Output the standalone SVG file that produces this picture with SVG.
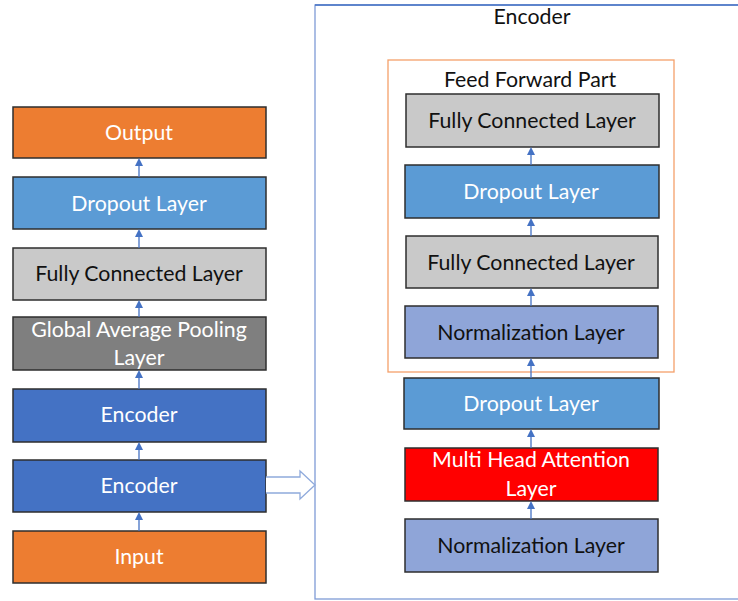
<svg xmlns="http://www.w3.org/2000/svg" width="738" height="601" viewBox="0 0 738 601">
<style>
.box{stroke:#2e2e2e;stroke-width:1.5}
.t{font-family:Lato,"Open Sans","Liberation Sans",sans-serif;font-size:21.3px;text-anchor:middle}
.w{fill:#ffffff}
.k{fill:#111111}
.orange{fill:#ed7d31}
.drop{fill:#5b9bd5}
.fc{fill:#c9c9c9}
.gap{fill:#7f7f7f}
.enc{fill:#4472c4}
.norm{fill:#8fa5d8}
.mha{fill:#ff0000}
.conn line{stroke:#4472c4;stroke-width:1.3}
</style>
<defs>
<marker id="ah" markerWidth="8" markerHeight="8" refX="4" refY="4" orient="auto" markerUnits="userSpaceOnUse">
<path d="M0,0 L8,4 L0,8 z" fill="#4472c4"/>
</marker>
</defs>
<rect width="738" height="601" fill="#ffffff"/>

<g id="encoder-detail">
<rect x="315" y="5" width="440" height="594" fill="none" stroke="#7f9bd6" stroke-width="1.3"/>
<line x1="315" y1="5" x2="738" y2="5" stroke="#4472c4" stroke-width="1.3"/>
<text class="t k" x="532" y="24">Encoder</text>
</g>

<g id="feed-forward-part">
<rect x="388" y="60" width="286" height="312" fill="none" stroke="#f4a06a" stroke-width="1.3"/>
<text class="t k" x="530" y="87">Feed Forward Part</text>
</g>

<g id="output"><rect class="box orange" x="13" y="107" width="253" height="51"/><text class="t w" x="139" y="140">Output</text></g>
<g id="dropout-left"><rect class="box drop" x="13" y="177" width="253" height="52"/><text class="t w" x="139" y="211">Dropout Layer</text></g>
<g id="fc-left"><rect class="box fc" x="13" y="248" width="253" height="52"/><text class="t k" x="139" y="281">Fully Connected Layer</text></g>
<g id="gap"><rect class="box gap" x="13" y="317" width="253" height="53"/><text class="t w" x="139" y="337">Global Average Pooling</text><text class="t w" x="139" y="365">Layer</text></g>
<g id="encoder-1"><rect class="box enc" x="13" y="389" width="253" height="53"/><text class="t w" x="139" y="422">Encoder</text></g>
<g id="encoder-2"><rect class="box enc" x="13" y="460" width="253" height="52"/><text class="t w" x="139" y="493">Encoder</text></g>
<g id="input"><rect class="box orange" x="13" y="531" width="253" height="52"/><text class="t w" x="139" y="564">Input</text></g>

<g id="fc-top"><rect class="box fc" x="406" y="94" width="253" height="53"/><text class="t k" x="532" y="128">Fully Connected Layer</text></g>
<g id="dropout-ff"><rect class="box drop" x="405" y="165" width="254" height="53"/><text class="t w" x="531" y="199">Dropout Layer</text></g>
<g id="fc-ff"><rect class="box fc" x="406" y="236" width="252" height="52"/><text class="t k" x="531" y="270">Fully Connected Layer</text></g>
<g id="norm-ff"><rect class="box norm" x="405" y="306" width="253" height="52"/><text class="t k" x="531" y="340">Normalization Layer</text></g>
<g id="dropout-enc"><rect class="box drop" x="404" y="378" width="255" height="51"/><text class="t w" x="531" y="411">Dropout Layer</text></g>
<g id="mha"><rect class="box mha" x="405" y="448" width="253" height="53"/><text class="t w" x="531" y="467">Multi Head Attention</text><text class="t w" x="531" y="496">Layer</text></g>
<g id="norm-in"><rect class="box norm" x="405" y="519" width="253" height="53"/><text class="t k" x="531" y="553">Normalization Layer</text></g>

<g id="connectors" class="conn">
<line x1="139" y1="177" x2="139" y2="162" marker-end="url(#ah)"/>
<line x1="139" y1="248" x2="139" y2="233" marker-end="url(#ah)"/>
<line x1="139" y1="317" x2="139" y2="304" marker-end="url(#ah)"/>
<line x1="139" y1="389" x2="139" y2="374" marker-end="url(#ah)"/>
<line x1="139" y1="460" x2="139" y2="446" marker-end="url(#ah)"/>
<line x1="139" y1="531" x2="139" y2="516" marker-end="url(#ah)"/>
<line x1="531" y1="165" x2="531" y2="151" marker-end="url(#ah)"/>
<line x1="531" y1="236" x2="531" y2="222" marker-end="url(#ah)"/>
<line x1="531" y1="306" x2="531" y2="292" marker-end="url(#ah)"/>
<line x1="531" y1="378" x2="531" y2="362" marker-end="url(#ah)"/>
<line x1="531" y1="448" x2="531" y2="433" marker-end="url(#ah)"/>
<line x1="531" y1="519" x2="531" y2="505" marker-end="url(#ah)"/>
<path d="M266,477 L300,477 L300,471 L315,485 L300,499 L300,493 L266,493" fill="#ffffff" stroke="#8faadc" stroke-width="1.3"/>
</g>
</svg>
